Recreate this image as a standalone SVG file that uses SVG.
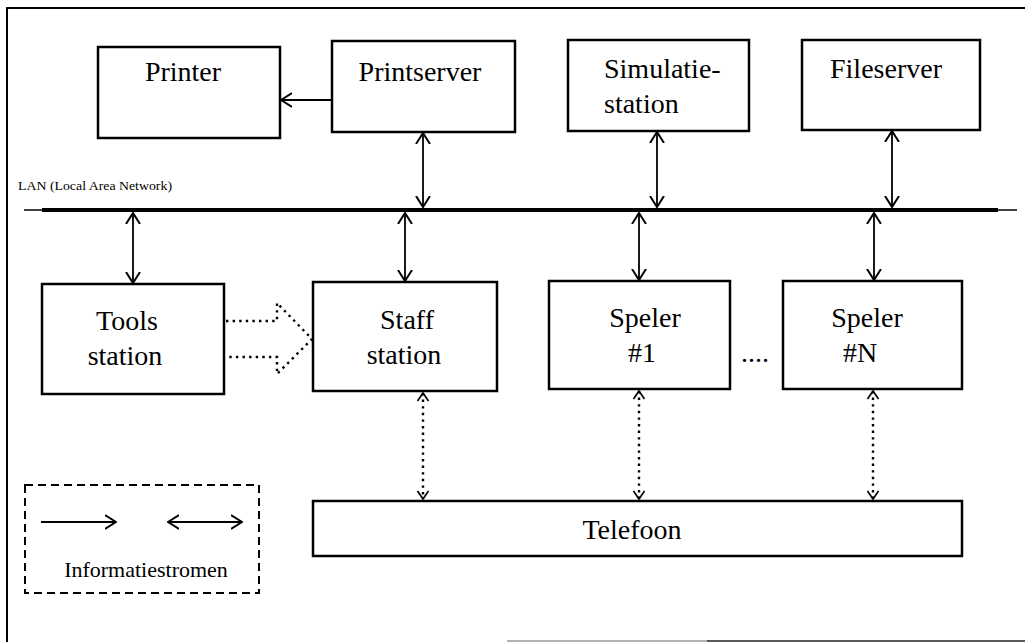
<svg xmlns="http://www.w3.org/2000/svg" width="1025" height="642" viewBox="0 0 1025 642">
  <style>
    .box { fill: #fff; stroke: #000; stroke-width: 2.5; }
    .lbl { font-family: "Liberation Serif", "Times New Roman", serif; font-size: 28px; fill: #000; }
    .small { font-family: "Liberation Serif", "Times New Roman", serif; font-size: 12.5px; fill: #000; }
    .legend-text { font-family: "Liberation Serif", "Times New Roman", serif; font-size: 22px; fill: #000; }
    .flow { stroke: #000; stroke-width: 1.8; fill: none; }
    .dot { stroke: #000; stroke-width: 2.4; fill: none; stroke-dasharray: 2.4 4.2; }
  </style>
  <defs>
    <marker id="arr" viewBox="0 0 12 16" refX="11" refY="8" markerWidth="12" markerHeight="16" markerUnits="userSpaceOnUse" orient="auto-start-reverse">
      <path d="M0,1 L11,8 L0,15" fill="none" stroke="#000" stroke-width="2"/>
    </marker>
    <marker id="arrDot" viewBox="0 0 10 14" refX="9" refY="7" markerWidth="10" markerHeight="14" markerUnits="userSpaceOnUse" orient="auto-start-reverse">
      <path d="M1,1.5 L9,7 L1,12.5" fill="none" stroke="#000" stroke-width="1.7"/>
    </marker>
  </defs>

  <rect width="1025" height="642" fill="#fff"/>

  <!-- page frame -->
  <path d="M1025,8 H7 V642" fill="none" stroke="#000" stroke-width="2"/>
  <line x1="507" y1="641" x2="707" y2="641" stroke="#999" stroke-width="1.5"/>
  <line x1="707" y1="641" x2="1025" y2="641" stroke="#222" stroke-width="1.5"/>

  <!-- LAN backbone -->
  <g id="lan">
    <text class="small" x="18" y="190" textLength="154" lengthAdjust="spacingAndGlyphs">LAN (Local Area Network)</text>
    <line x1="24" y1="210" x2="1017" y2="210" stroke="#000" stroke-width="1.6"/>
    <line x1="42" y1="210" x2="998" y2="210" stroke="#000" stroke-width="4"/>
  </g>

  <g id="printer">
    <rect class="box" x="98" y="47" width="182" height="91"/>
    <text class="lbl" x="183" y="81" text-anchor="middle">Printer</text>
  </g>
  <g id="printserver">
    <rect class="box" x="332" y="41" width="183" height="91"/>
    <text class="lbl" x="420" y="81" text-anchor="middle">Printserver</text>
  </g>
  <g id="simulatiestation">
    <rect class="box" x="568" y="40" width="181" height="91"/>
    <text class="lbl" x="604" y="78">Simulatie-</text>
    <text class="lbl" x="604" y="113">station</text>
  </g>
  <g id="fileserver">
    <rect class="box" x="802" y="40" width="178" height="90"/>
    <text class="lbl" x="886" y="78" text-anchor="middle">Fileserver</text>
  </g>
  <g id="toolsstation">
    <rect class="box" x="42" y="284" width="182" height="110"/>
    <text class="lbl" x="127" y="330" text-anchor="middle">Tools</text>
    <text class="lbl" x="125" y="365" text-anchor="middle">station</text>
  </g>
  <g id="staffstation">
    <rect class="box" x="313" y="282" width="184" height="109"/>
    <text class="lbl" x="407" y="329" text-anchor="middle">Staff</text>
    <text class="lbl" x="404" y="364" text-anchor="middle">station</text>
  </g>
  <g id="speler1">
    <rect class="box" x="549" y="281" width="181" height="108"/>
    <text class="lbl" x="645" y="327" text-anchor="middle">Speler</text>
    <text class="lbl" x="642" y="362" text-anchor="middle">#1</text>
  </g>
  <g id="ellipsis">
    <text class="lbl" x="755" y="362" text-anchor="middle">....</text>
  </g>
  <g id="spelerN">
    <rect class="box" x="783" y="281" width="179" height="108"/>
    <text class="lbl" x="867" y="327" text-anchor="middle">Speler</text>
    <text class="lbl" x="860" y="362" text-anchor="middle">#N</text>
  </g>
  <g id="telefoon">
    <rect class="box" x="313" y="501" width="649" height="55"/>
    <text class="lbl" x="632" y="539" text-anchor="middle">Telefoon</text>
  </g>

  <!-- legend -->
  <g id="legend">
    <rect x="25" y="485" width="234" height="108" fill="none" stroke="#000" stroke-width="2" stroke-dasharray="8 5"/>
    <line class="flow" x1="41" y1="522" x2="116" y2="522" marker-end="url(#arr)"/>
    <line class="flow" x1="168" y1="522" x2="242" y2="522" marker-start="url(#arr)" marker-end="url(#arr)"/>
    <text class="legend-text" x="146" y="577" text-anchor="middle">Informatiestromen</text>
  </g>

  <!-- connectors -->
  <g id="connectors">
    <line class="flow" x1="332" y1="100" x2="281" y2="100" marker-end="url(#arr)"/>
    <line class="flow" x1="423" y1="133" x2="423" y2="207" marker-start="url(#arr)" marker-end="url(#arr)"/>
    <line class="flow" x1="657" y1="132" x2="657" y2="207" marker-start="url(#arr)" marker-end="url(#arr)"/>
    <line class="flow" x1="892" y1="131" x2="892" y2="207" marker-start="url(#arr)" marker-end="url(#arr)"/>
    <line class="flow" x1="133" y1="213" x2="133" y2="283" marker-start="url(#arr)" marker-end="url(#arr)"/>
    <line class="flow" x1="405" y1="213" x2="405" y2="281" marker-start="url(#arr)" marker-end="url(#arr)"/>
    <line class="flow" x1="639" y1="213" x2="639" y2="280" marker-start="url(#arr)" marker-end="url(#arr)"/>
    <line class="flow" x1="874" y1="213" x2="874" y2="280" marker-start="url(#arr)" marker-end="url(#arr)"/>

    <!-- broad dotted arrow: tools station to staff station -->
    <path class="dot" d="M226,321 H277 V303 L312,339 L277,374 V357 H226"/>

    <!-- dotted telephone links -->
    <line class="dot" x1="423" y1="393" x2="423" y2="499" marker-start="url(#arrDot)" marker-end="url(#arrDot)"/>
    <line class="dot" x1="639" y1="391" x2="639" y2="499" marker-start="url(#arrDot)" marker-end="url(#arrDot)"/>
    <line class="dot" x1="873" y1="391" x2="873" y2="499" marker-start="url(#arrDot)" marker-end="url(#arrDot)"/>
  </g>
</svg>
